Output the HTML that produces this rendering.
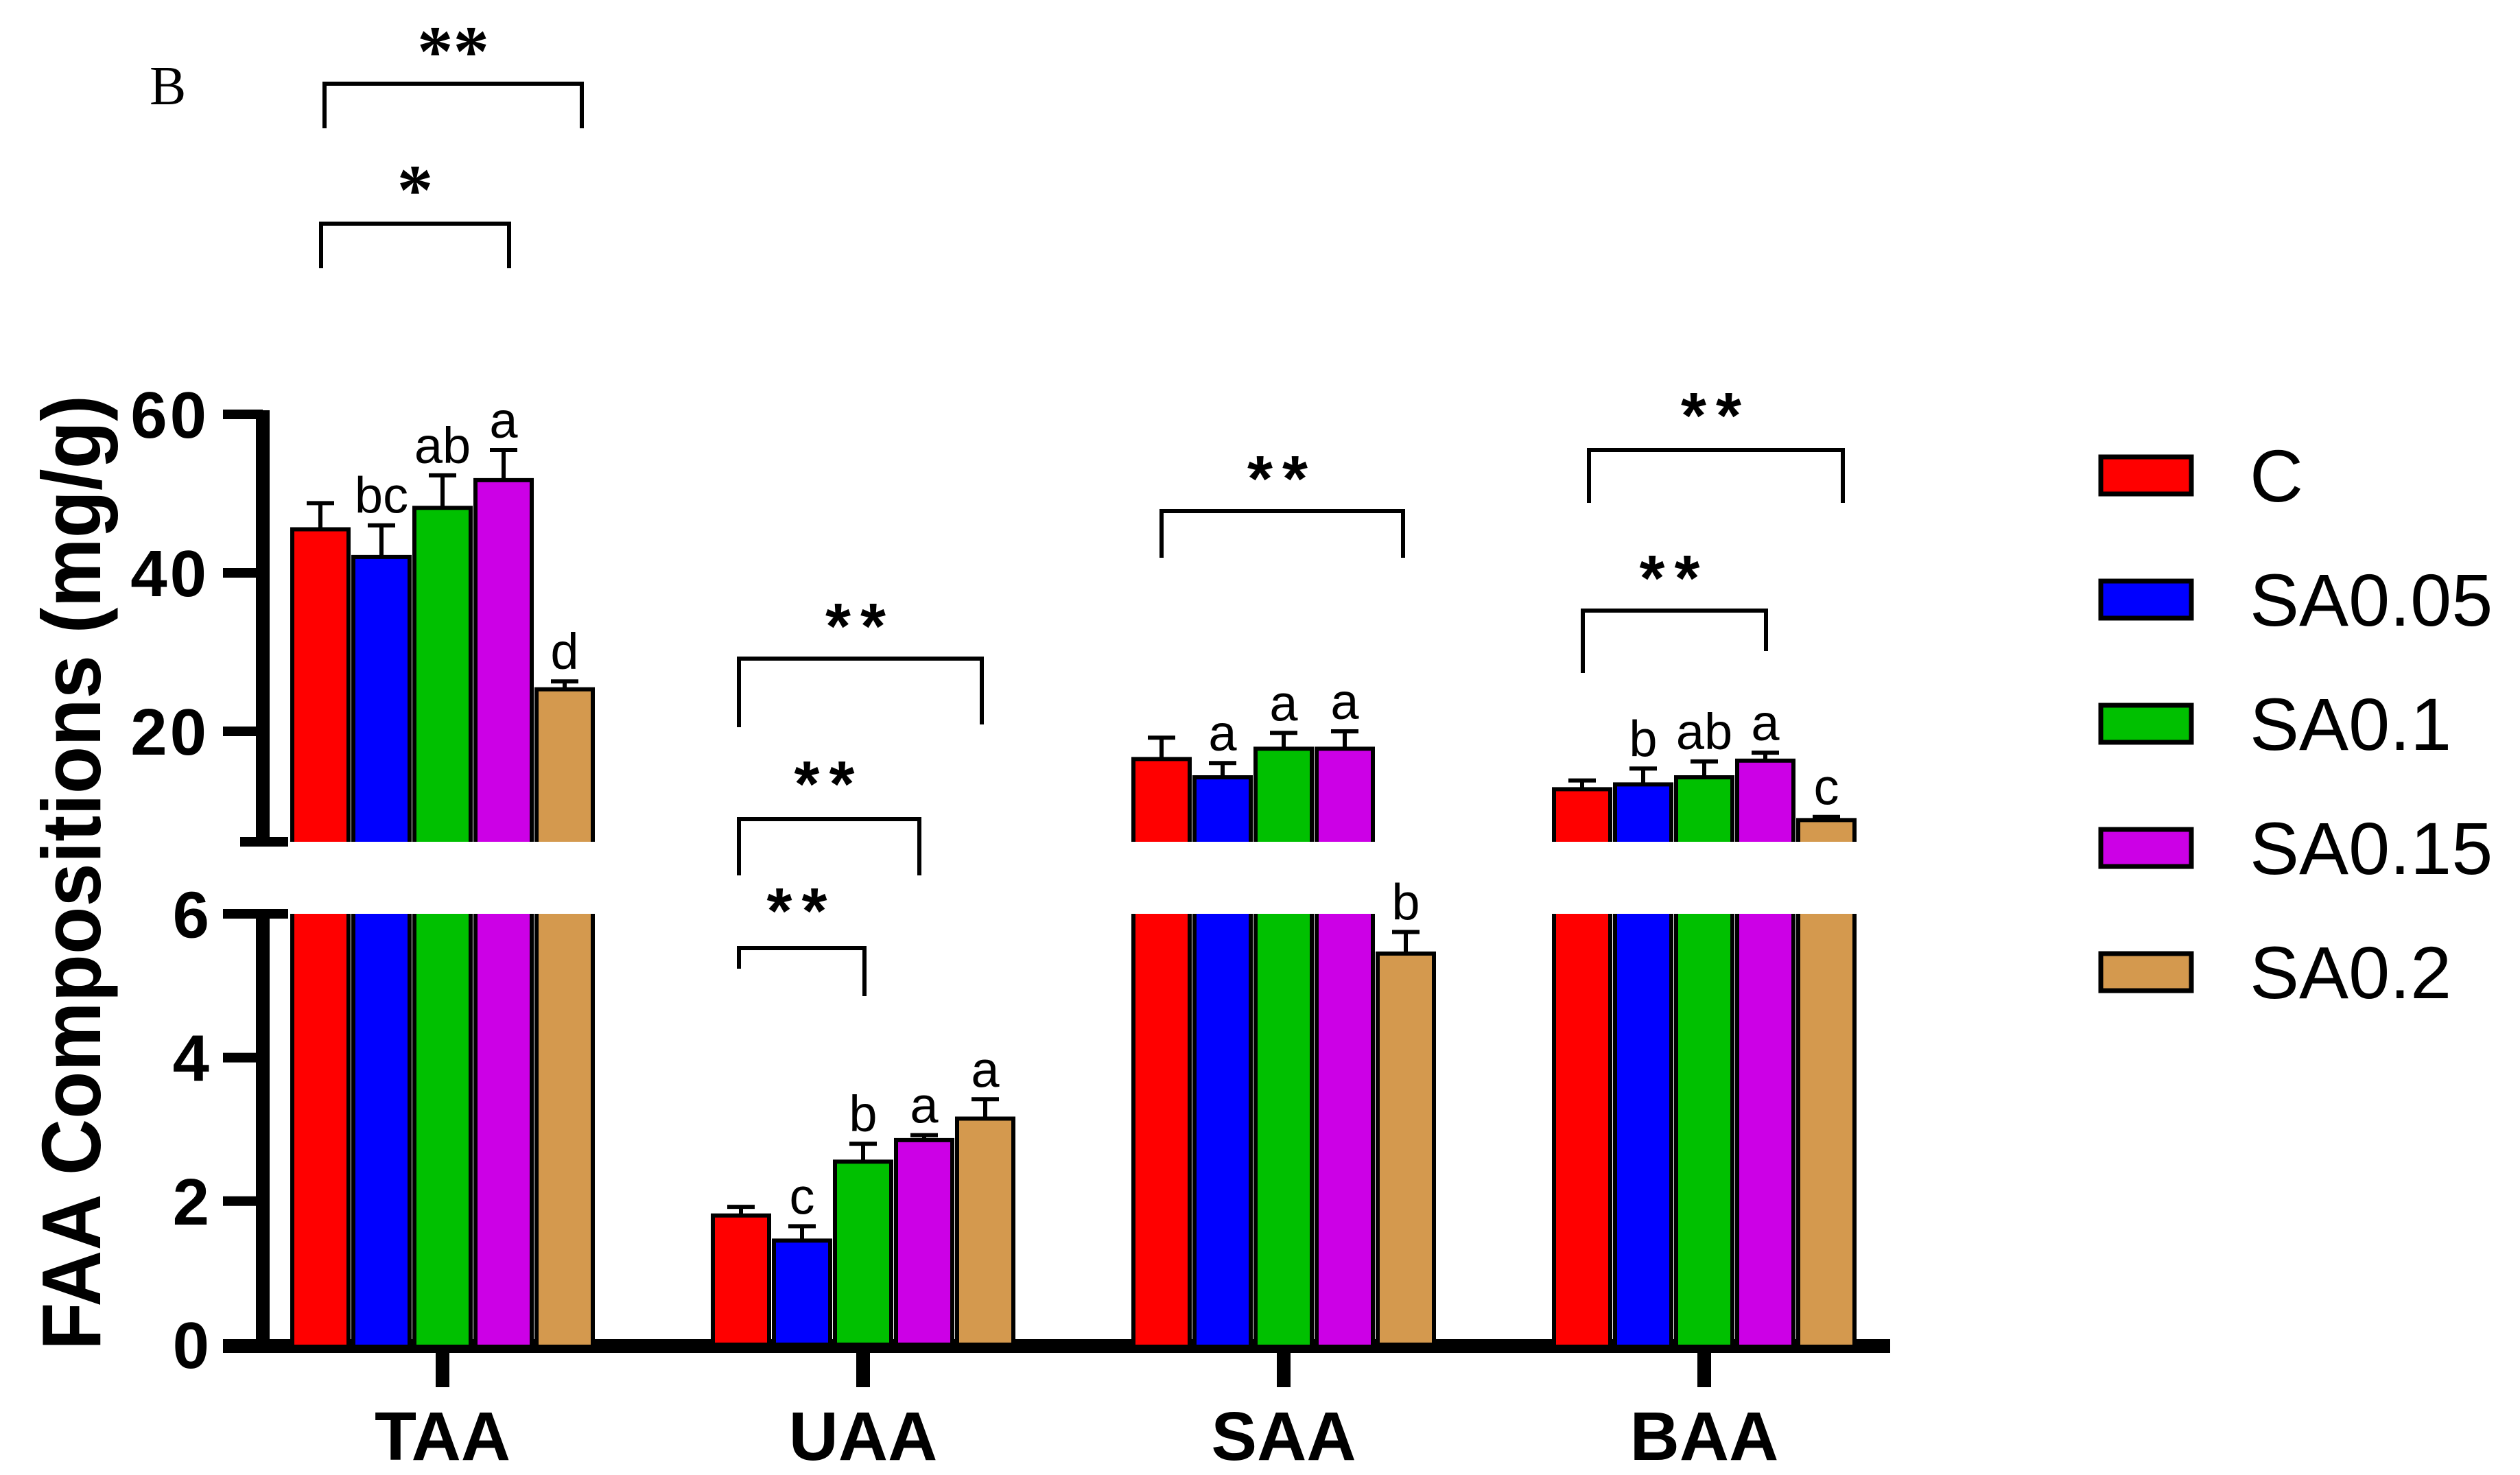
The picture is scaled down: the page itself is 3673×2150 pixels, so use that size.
<!DOCTYPE html>
<html><head><meta charset="utf-8"><style>
html,body{margin:0;padding:0;background:#fff;}
svg{display:block;}
</style></head><body>
<svg id="chart" width="3673" height="2150" viewBox="0 0 3673 2150" xmlns="http://www.w3.org/2000/svg">
<text x="218" y="152" font-family="Liberation Serif, serif" font-size="80">B</text>
<text transform="translate(146,1968) rotate(-90)" font-family="Liberation Sans, sans-serif" font-weight="bold" font-size="122" textLength="1392" lengthAdjust="spacingAndGlyphs">FAA Compositions (mg/g)</text>
<g id="axes"></g>
<g id="bars"></g>
<g id="sig"></g>
<g id="legend"></g>
</svg>
<script>
const categories = ["TAA","UAA","SAA","BAA"];
const series = ["C","SA0.05","SA0.1","SA0.15","SA0.2"];
const colors = ["#ff0000","#0000ff","#00c000","#cc00e6","#d4994e"];
const valC     = [45.5, 1.8, 16.5, 12.7];
const valSA005 = [42.0, 1.45, 14.2, 13.3];
const valSA01  = [48.2, 2.55, 17.8, 14.2];
const valSA015 = [51.7, 2.85, 17.8, 16.3];
const valSA02  = [25.3, 3.15, 5.45, 8.8];
const errC     = [3.3, 0.12, 2.7, 1.1];
const errSA005 = [4.0, 0.2, 1.8, 2.0];
const errSA01  = [4.1, 0.25, 2.0, 2.0];
const errSA015 = [3.8, 0.07, 2.2, 1.0];
const errSA02  = [1.0, 0.27, 0.3, 0.4];
const lettersC     = ["", "", "", ""];
const lettersSA005 = ["bc","c","a","b"];
const lettersSA01  = ["ab","b","a","ab"];
const lettersSA015 = ["a","a","a","a"];
const lettersSA02  = ["d","a","b","c"];
const upperTicks = [20,40,60];
const lowerTicks = [0,2,4,6];
const vals=[valC,valSA005,valSA01,valSA015,valSA02];
const errs=[errC,errSA005,errSA01,errSA015,errSA02];
const lets=[lettersC,lettersSA005,lettersSA01,lettersSA015,lettersSA02];

const NS="http://www.w3.org/2000/svg";
function mk(tag,attrs,parent,txt){const e=document.createElementNS(NS,tag);for(const k in attrs)e.setAttribute(k,attrs[k]);if(txt!==undefined)e.textContent=txt;parent.appendChild(e);return e;}
const BREAK=6, UP_TOP=1227, LOW_TOP=1332, ZERO=1960;
function yUp(v){return 1066-(v-20)*11.55;}
function yLow(v){return ZERO-v*104.6;}
function y(v){return v>BREAK?yUp(v):yLow(v);}
function xCat(i){return 645+i*613;}
function xBar(i,j){return xCat(i)+(j-2)*89;}
const BW=82;

const axes=document.getElementById('axes');
let e=mk('line',{x1:383,y1:yUp(60)-6,x2:383,y2:UP_TOP,stroke:'#000','stroke-width':20},axes);

e=mk('line',{x1:350,y1:UP_TOP,x2:420,y2:UP_TOP,stroke:'#000','stroke-width':14},axes);

e=mk('line',{x1:383,y1:LOW_TOP-7,x2:383,y2:ZERO,stroke:'#000','stroke-width':20},axes);

e=mk('line',{x1:325,y1:LOW_TOP,x2:420,y2:LOW_TOP,stroke:'#000','stroke-width':14},axes);

e=mk('line',{x1:325,y1:ZERO+2,x2:2755,y2:ZERO+2,stroke:'#000','stroke-width':20},axes);

upperTicks.forEach(t=>{
  e=mk('line',{x1:325,y1:yUp(t),x2:383,y2:yUp(t),stroke:'#000','stroke-width':14},axes);
  
  e=mk('text',{x:305,y:yUp(t)+34,'text-anchor':'end','font-family':'Liberation Sans, sans-serif','font-weight':'bold','font-size':96,'letter-spacing':4},axes,String(t));
  
});
lowerTicks.forEach(t=>{
  if(t!==6){e=mk('line',{x1:325,y1:yLow(t),x2:383,y2:yLow(t),stroke:'#000','stroke-width':14},axes);
  }
  e=mk('text',{x:305,y:yLow(t)+34,'text-anchor':'end','font-family':'Liberation Sans, sans-serif','font-weight':'bold','font-size':96},axes,String(t));
  
});
categories.forEach((c,i)=>{
  e=mk('line',{x1:xCat(i),y1:ZERO,x2:xCat(i),y2:2022,stroke:'#000','stroke-width':20},axes);
  
  e=mk('text',{x:xCat(i),y:2128,'text-anchor':'middle','font-family':'Liberation Sans, sans-serif','font-weight':'bold','font-size':100},axes,c);
  
});

const bars=document.getElementById('bars');
categories.forEach((c,i)=>{
  series.forEach((s,j)=>{
    const v=vals[j][i], er=errs[j][i];
    const x0=xBar(i,j)-BW/2, x1=x0+BW;
    const g=mk('g',{},bars);
    
    
    const sw=6;
    if(v>BREAK){
      mk('rect',{x:x0,y:LOW_TOP,width:BW,height:ZERO-LOW_TOP,fill:colors[j]},g);
      mk('path',{d:`M${x0},${ZERO} V${LOW_TOP} M${x1},${ZERO} V${LOW_TOP}`,stroke:'#000','stroke-width':sw,fill:'none'},g);
      const yt=yUp(v);
      mk('rect',{x:x0,y:yt,width:BW,height:UP_TOP-yt,fill:colors[j]},g);
      mk('path',{d:`M${x0},${UP_TOP} V${yt} H${x1} V${UP_TOP}`,stroke:'#000','stroke-width':sw,fill:'none'},g);
    } else {
      const yt=yLow(v);
      mk('rect',{x:x0,y:yt,width:BW,height:ZERO-yt,fill:colors[j],stroke:'#000','stroke-width':sw},g);
    }
    const ye=y(v+er), yb=y(v), xc=xBar(i,j);
    const eb=mk('path',{d:`M${xc},${yb} V${ye} M${xc-20},${ye} H${xc+20}`,stroke:'#000','stroke-width':6,fill:'none'},bars);
    
    const L=lets[j][i];
    if(L){const t=mk('text',{x:xc,y:ye-18,'text-anchor':'middle','font-family':'Liberation Sans, sans-serif','font-size':74},bars,L);
      }
  });
});

const brackets=[
 [473,848,122,187,187,"**",70,true],
 [468,742,326,391,391,"*",272,true],
 [1077,1431,960,1060,1056,"**",905,false],
 [1077,1340,1194,1276,1276,"**",1135,false],
 [1077,1260,1382,1412,1452,"**",1320,false],
 [1693,2045,745,813,813,"**",690,false],
 [2316,2686,656,733,733,"**",598,false],
 [2307,2574,890,981,949,"**",835,false]
];
const sig=document.getElementById('sig');
brackets.forEach(b=>{
  const p=mk('path',{d:`M${b[0]},${b[3]} V${b[2]} H${b[1]} V${b[4]}`,stroke:'#000','stroke-width':6,fill:'none'},sig);
  
  const t=mk('text',{x:(b[0]+b[1])/2,y:b[6]+40,'text-anchor':'middle','font-family':b[7]?'Liberation Serif, serif':'Liberation Sans, sans-serif','font-weight':'bold','font-size':b[7]?105:95,'letter-spacing':b[7]?0:14},sig,b[5]);
  
});

const legend=document.getElementById('legend');
series.forEach((s,j)=>{
  const cy=693+j*181;
  const g=mk('g',{},legend);
  
  
  mk('rect',{x:3062,y:cy-27,width:132,height:54,fill:colors[j],stroke:'#000','stroke-width':7},g);
  mk('text',{x:3279,y:cy+38,'font-family':'Liberation Sans, sans-serif','font-size':108},g,s);
});
</script>
</body></html>
